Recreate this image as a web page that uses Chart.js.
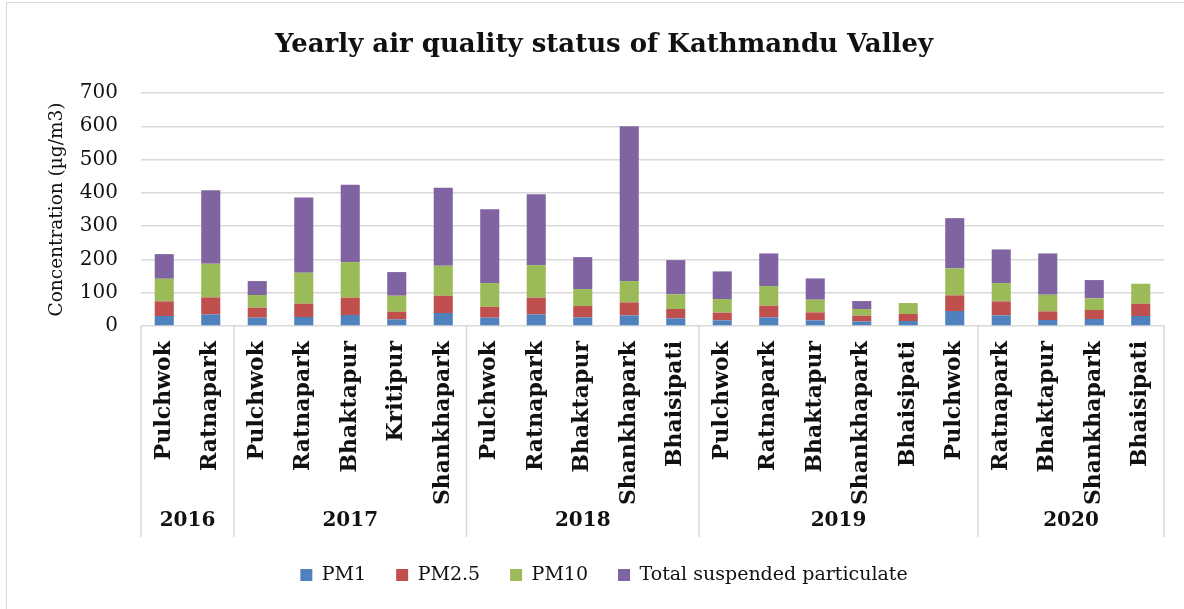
<!DOCTYPE html>
<html><head><meta charset="utf-8">
<script src="https://cdn.jsdelivr.net/npm/chart.js@4"></script>
<style>
html,body{margin:0;padding:0;background:#fff;}
#wrap{position:relative;width:1184px;height:609px;}
#frameL{position:absolute;left:6px;top:2px;width:1px;height:607px;background:#d9d9d9;}
#frameT{position:absolute;left:6px;top:2px;width:1178px;height:1px;background:#d9d9d9;}
</style></head><body>
<div id="wrap"><canvas id="c" width="1184" height="609"></canvas><div id="frameL"></div><div id="frameT"></div></div>
<script>
const sites = ['Pulchwok','Ratnapark',
  'Pulchwok','Ratnapark','Bhaktapur','Kritipur','Shankhapark',
  'Pulchwok','Ratnapark','Bhaktapur','Shankhapark','Bhaisipati',
  'Pulchwok','Ratnapark','Bhaktapur','Shankhapark','Bhaisipati','Pulchwok',
  'Ratnapark','Bhaktapur','Shankhapark','Bhaisipati'];
const years = ['2016','2017','2018','2019','2020'];
const yearCounts = [2,5,5,6,4];
const pm1  = [30,35, 25,27,33,20,39, 25,35,26,32,23, 17,26,17,14,15,45, 32,18,21,30];
const pm25 = [44,51, 30,40,52,23,52, 33,50,34,39,28, 23,35,24,17,21,47, 42,26,27,37];
const pm10 = [68,101, 38,93,107,48,90, 71,98,51,64,44, 41,59,38,20,33,81, 55,50,35,60];
const tsp  = [74,221, 42,226,232,71,234, 222,213,96,465,103, 83,98,64,24,0,151, 101,124,55,0];
const yTicks = [0,100,200,300,400,500,600,700];

const FONT = "'DejaVu Serif', serif";
const groupPlugin = {
  id: 'groups',
  afterDraw(chart) {
    const x = chart.scales.x, area = chart.chartArea, ctx = chart.ctx;
    const step = x.getPixelForValue(1) - x.getPixelForValue(0);
    const lineBottom = area.bottom + 211;
    ctx.save();
    ctx.strokeStyle = '#d9d9d9';
    ctx.lineWidth = 1.5;
    let idx = 0;
    const edges = [x.getPixelForValue(0) - step / 2];
    yearCounts.forEach(n => { idx += n; edges.push(x.getPixelForValue(idx - 1) + step / 2); });
    edges.forEach(px => {
      ctx.beginPath(); ctx.moveTo(px, area.bottom); ctx.lineTo(px, lineBottom); ctx.stroke();
    });
    ctx.fillStyle = '#111';
    ctx.font = "bold 20px " + FONT;
    ctx.textAlign = 'center';
    ctx.textBaseline = 'middle';
    years.forEach((yr, i) => {
      ctx.fillText(yr, (edges[i] + edges[i + 1]) / 2, area.bottom + 195);
    });
    ctx.restore();
  }
};

const colors = ['#4F81BD', '#C0504D', '#9BBB59', '#8064A2'];
new Chart(document.getElementById('c'), {
  type: 'bar',
  data: {
    labels: sites,
    datasets: [
      { label: 'PM1', data: pm1, backgroundColor: colors[0] },
      { label: 'PM2.5', data: pm25, backgroundColor: colors[1] },
      { label: 'PM10', data: pm10, backgroundColor: colors[2] },
      { label: 'Total suspended particulate', data: tsp, backgroundColor: colors[3] }
    ]
  },
  options: {
    responsive: false,
    animation: false,
    devicePixelRatio: 1,
    datasets: { bar: { categoryPercentage: 1, barPercentage: 0.41 } },
    layout: { padding: { left: 44, right: 20, top: 0, bottom: 14.5 } },
    plugins: {
      title: {
        display: true,
        text: 'Yearly air quality status of Kathmandu Valley',
        font: { family: FONT, size: 26, weight: 'bold' },
        color: '#111',
        padding: { top: 29.4, bottom: 32.4 }
      },
      legend: {
        position: 'bottom',
        labels: {
          font: { family: FONT, size: 19 },
          color: '#111',
          boxWidth: 12, boxHeight: 12,
          padding: 30
        }
      },
      tooltip: { enabled: false }
    },
    scales: {
      x: {
        stacked: true,
        grid: { display: false, drawTicks: false },
        border: { display: false },
        ticks: {
          autoSkip: false, minRotation: 90, maxRotation: 90,
          padding: 15,
          font: { family: FONT, size: 22, weight: 'bold' },
          color: '#111'
        },
        afterFit(scale) { scale.height = 209.5; }
      },
      y: {
        stacked: true,
        min: 0, max: 700,
        afterBuildTicks(scale) { scale.ticks = yTicks.map(v => ({ value: v })); },
        grid: { color: '#d9d9d9', lineWidth: 1.5, drawTicks: false },
        border: { display: false },
        ticks: {
          padding: 23,
          font: { family: FONT, size: 20 },
          color: '#111'
        },
        title: {
          display: true,
          text: 'Concentration (µg/m3)',
          font: { family: FONT, size: 18.5 },
          color: '#111',
          padding: { top: 2, bottom: 0 }
        },
        afterFit(scale) { scale.width = 97; }
      }
    }
  },
  plugins: [groupPlugin]
});
</script>
</body></html>
